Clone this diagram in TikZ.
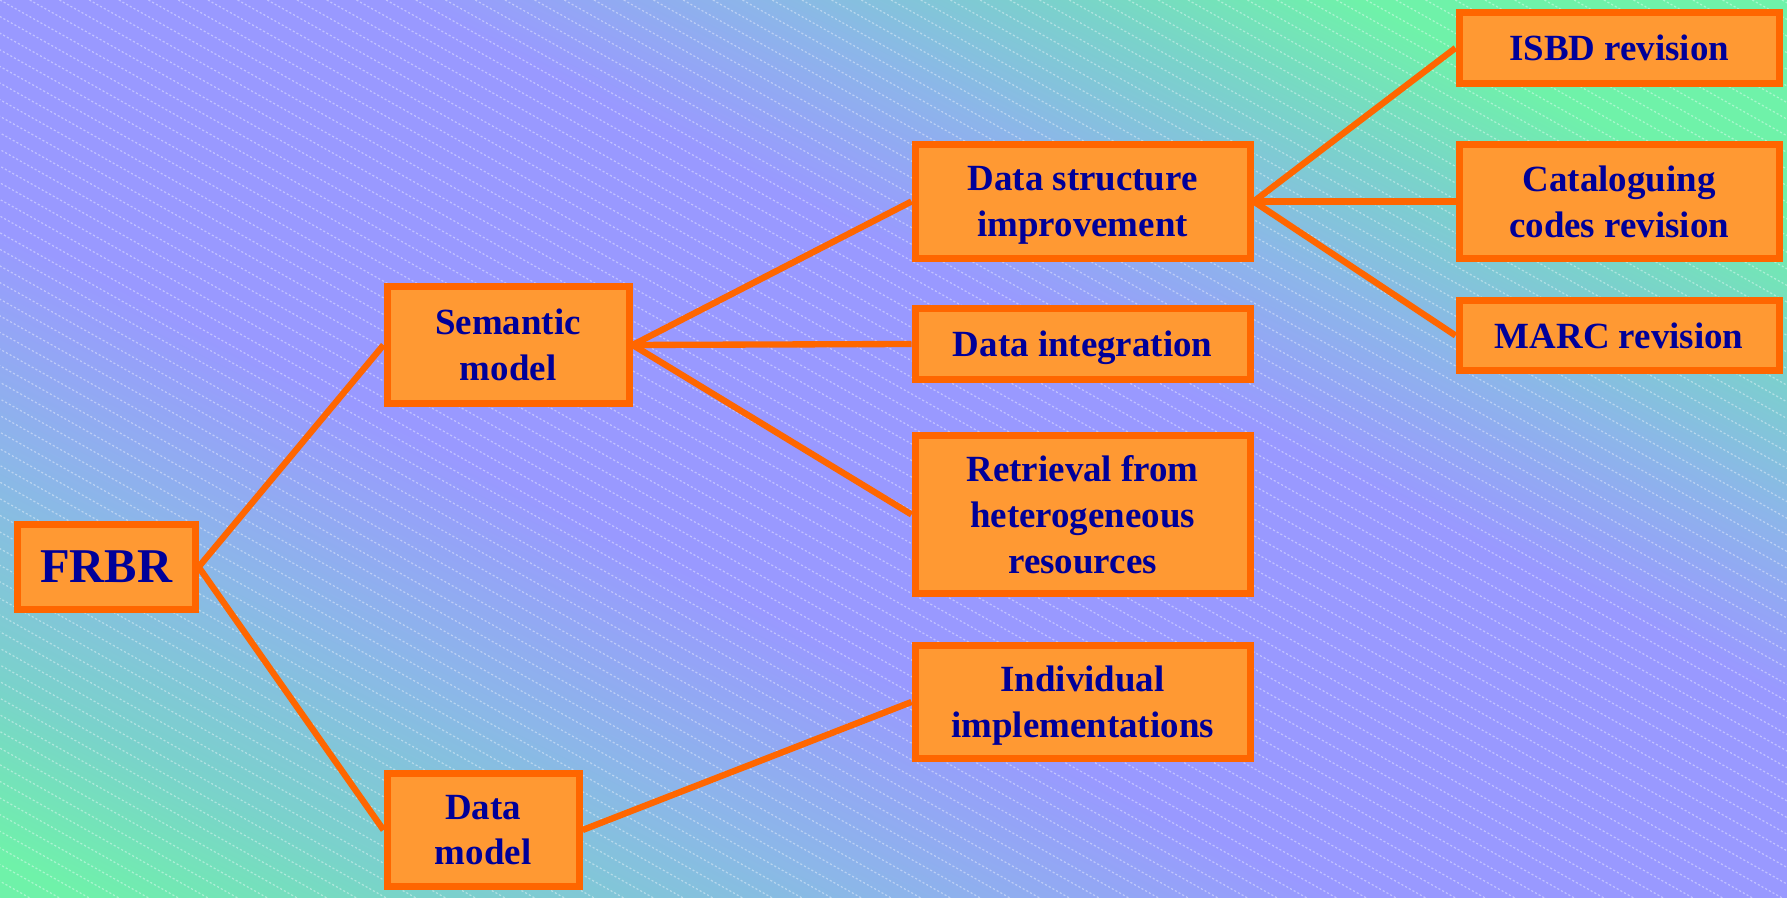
\documentclass[tikz,border=0pt]{standalone}
\usepackage{fontspec}
\setmainfont{Liberation Serif}
\definecolor{bggreen}{HTML}{6FF2A9}
\definecolor{bgteal}{HTML}{7AD2CB}
\definecolor{bgblue}{HTML}{8CB6E9}
\definecolor{bgpurple}{HTML}{9999FF}
\definecolor{boxedge}{HTML}{FF6600}
\definecolor{boxfill}{HTML}{FF9933}
\definecolor{boxtext}{HTML}{000099}
\pgfdeclareverticalshading{bgfade}{100bp}{color(0bp)=(bggreen); color(16bp)=(bggreen);
  color(23bp)=(bgteal); color(32bp)=(bgblue); color(41bp)=(bgpurple); color(58bp)=(bgpurple);
  color(65bp)=(bgblue); color(71bp)=(bgteal); color(77bp)=(bggreen); color(100bp)=(bggreen)}

\begin{document}
\begin{tikzpicture}[x=0.01cm,y=-0.01cm]
			\tikzstyle{box}=[draw=boxedge,fill=boxfill,line width=2pt,text=boxtext,
			font=\bfseries\fontsize{10.5}{13}\selectfont,align=center,anchor=west,inner sep=0pt,
			text depth=0pt]
			\tikzstyle{link}=[draw=boxedge,line width=1.8pt]
			\tikzstyle{stripe}=[white,opacity=0.4,line width=0.35pt,dash pattern=on 0.6pt off 0.6pt]
			\useasboundingbox (0,0) rectangle (1787,898);
			\begin{scope}[transform canvas={xscale=1.98998}]
				\shade[shading=bgfade,shading angle=-45] (0,0) rectangle (898,898);
			\end{scope}
			\begin{scope}
				\clip (0,0) rectangle (1787,898);
				\foreach \i in {-54,...,61}
					\draw[stripe] (\i*29.7,0) -- ++(1604,898);
			\end{scope}
			\node[box,minimum width=1.78cm,minimum height=0.85cm,
			font=\bfseries\fontsize{13.8}{16}\selectfont] (frbr) at (13.5,567) {FRBR};
			\node[box,minimum width=2.42cm,minimum height=1.17cm] (semantic) at (383.5,345) {Semantic\\model};
			\node[box,minimum width=1.92cm,minimum height=1.13cm] (datamodel) at (383.5,830) {Data\\model};
			\node[box,minimum width=3.35cm,minimum height=1.14cm] (structure) at (911.5,201.5) {Data structure\\improvement};
			\node[box,minimum width=3.35cm,minimum height=0.71cm] (integration) at (911.5,344) {Data integration};
			\node[box,minimum width=3.35cm,minimum height=1.58cm] (retrieval) at (911.5,514.5) {Retrieval from\\heterogeneous\\resources};
			\node[box,minimum width=3.35cm,minimum height=1.13cm] (individual) at (911.5,702) {Individual\\implementations};
			\node[box,minimum width=3.20cm,minimum height=0.71cm] (isbd) at (1455.5,48) {ISBD revision};
			\node[box,minimum width=3.20cm,minimum height=1.14cm] (codes) at (1455.5,201.5) {Cataloguing\\codes revision};
			\node[box,minimum width=3.20cm,minimum height=0.70cm] (marc) at (1455.5,335.5) {MARC revision};
			\draw[link] (frbr.east) -- (semantic.west);
			\draw[link] (frbr.east) -- (datamodel.west);
			\draw[link] (semantic.east) -- (structure.west);
			\draw[link] (semantic.east) -- (integration.west);
			\draw[link] (semantic.east) -- (retrieval.west);
			\draw[link] (datamodel.east) -- (individual.west);
			\draw[link] (structure.east) -- (isbd.west);
			\draw[link] (structure.east) -- (codes.west);
			\draw[link] (structure.east) -- (marc.west);
\end{tikzpicture}
\end{document}
